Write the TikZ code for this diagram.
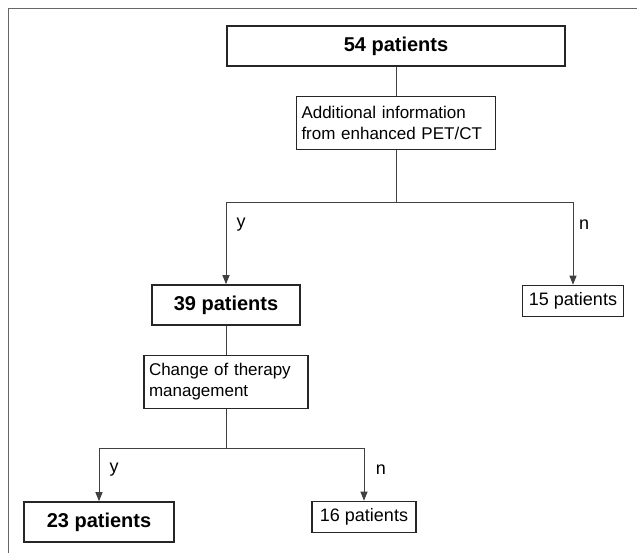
\documentclass[tikz,border=0pt]{standalone}
\usepackage{fontspec}
\setmainfont{Liberation Sans}
\usetikzlibrary{positioning, arrows.meta}

\begin{document}
\begin{tikzpicture}[
  x=1pt, y=1pt,
  font=\fontsize{18}{21}\selectfont,
  box/.style={draw=black!85, line width=1.6pt, inner sep=0pt, align=center},
  bigbox/.style={box, font=\fontsize{20}{24}\selectfont\bfseries, minimum height=40pt},
  smallbox/.style={box, minimum height=31pt},
  textbox/.style={box, align=left, inner xsep=5pt, minimum height=53pt,
    font=\fontsize{17}{21}\selectfont},
  link/.style={draw=black!75, line width=1pt},
  arrow/.style={link, -{Triangle[length=9pt, width=7pt]}},
  lbl/.style={inner sep=0pt}
]
\useasboundingbox (0,0) rectangle (637,-553);
\draw[black!60, line width=1pt] (8,-553) -- (8,-9) -- (637,-9);

\node[bigbox, minimum width=338pt] (total) at (396,-46) {54 patients};
\node[textbox, text width=189pt, below=29pt of total] (pet)
  {Additional information\\from enhanced PET/CT};
\coordinate[below=52pt of pet] (fork1);

\node[bigbox, minimum width=148pt] (p39) at (226,-305) {39 patients};
\node[smallbox, minimum width=101pt] (p15) at (573,-301) {15 patients};

\node[textbox, text width=154pt, below=29pt of p39] (therapy)
  {Change of therapy\\management};
\coordinate[below=39pt of therapy] (fork2);

\node[bigbox, minimum width=150pt] (p23) at (99,-522) {23 patients};
\node[smallbox, minimum width=104pt] (p16) at (364,-517) {16 patients};

\node[lbl] (yes1) at (241,-225) {y};
\node[lbl] (no1) at (584,-225) {n};
\node[lbl] (yes2) at (114,-470) {y};
\node[lbl] (no2) at (381,-470) {n};

\draw[link] (total) -- (pet);
\draw[link] (pet) -- (fork1);
\draw[arrow] (fork1) -| (p39);
\draw[arrow] (fork1) -| (p15);
\draw[link] (p39) -- (therapy);
\draw[link] (therapy) -- (fork2);
\draw[arrow] (fork2) -| (p23);
\draw[arrow] (fork2) -| (p16);
\end{tikzpicture}
\end{document}
